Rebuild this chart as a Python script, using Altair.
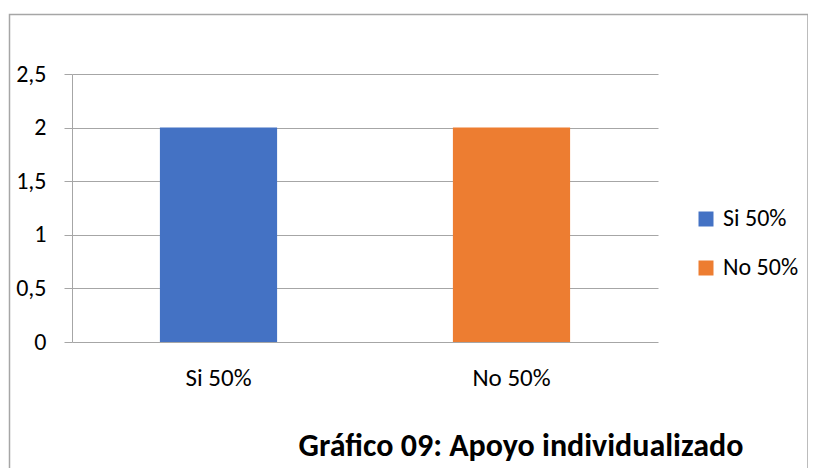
import altair as alt
import pandas as pd

categories = ["Si 50%", "No 50%"]
values = [2, 2]
colors = ["#4472C4", "#ED7D31"]
title_text = ["Gráfico 09: Apoyo individualizado"]

df = pd.DataFrame({"cat": categories, "val": values})
tdf = pd.DataFrame({"t": title_text})

FONT = "Carlito, Lato, sans-serif"
W, H = 586, 268

bars = alt.Chart(df).mark_bar().encode(
    x=alt.X("cat:N", sort=categories,
            scale=alt.Scale(paddingInner=0.6, paddingOuter=0.3),
            axis=alt.Axis(title=None, labelAngle=0, ticks=False, domain=False,
                          labelFontSize=25, labelPadding=23, labelColor="#000000",
                          labelFont=FONT)),
    y=alt.Y("val:Q", scale=alt.Scale(domain=[0, 2.5], nice=False),
            axis=alt.Axis(title=None, values=[0, 0.5, 1, 1.5, 2, 2.5],
                          labelExpr="replace(format(datum.value, '.1~f'), '.', ',')",
                          labelFontSize=24, labelPadding=18, labelColor="#000000",
                          labelFont=FONT, tickSize=8, tickColor="#a6a6a6",
                          domain=True, domainColor="#a6a6a6",
                          grid=True, gridColor="#a6a6a6")),
    color=alt.Color("cat:N", sort=categories,
                    scale=alt.Scale(domain=categories, range=colors),
                    legend=alt.Legend(title=None, orient="none", legendX=622, legendY=133,
                                      symbolType="square", symbolSize=225,
                                      symbolStrokeWidth=0, labelFontSize=24,
                                      labelFont=FONT, rowPadding=25, labelOffset=5,
                                      labelColor="#000000")),
)

title = alt.Chart(tdf).mark_text(
    font=FONT, fontSize=32, fontWeight="bold", color="#000000",
    align="center", baseline="alphabetic", clip=False
).encode(text="t:N", x=alt.value(449), y=alt.value(382))

border = alt.Chart(pd.DataFrame({"a": [0]})).mark_rect(
    fill=None, stroke="#a6a6a6", strokeWidth=1.5, clip=False
).encode(
    x=alt.value(-62.5), x2=alt.value(736), y=alt.value(-59.5), y2=alt.value(420)
)

chart = alt.layer(border, bars, title).properties(
    width=W, height=H,
    autosize=alt.AutoSizeParams(type="none"),
    padding={"left": 64, "top": 66, "right": 150, "bottom": 126},
).configure_view(stroke=None).configure_axisX(domain=True, domainColor="#a6a6a6")

chart.save("out.html", embed_options={"renderer": "svg", "actions": False})
